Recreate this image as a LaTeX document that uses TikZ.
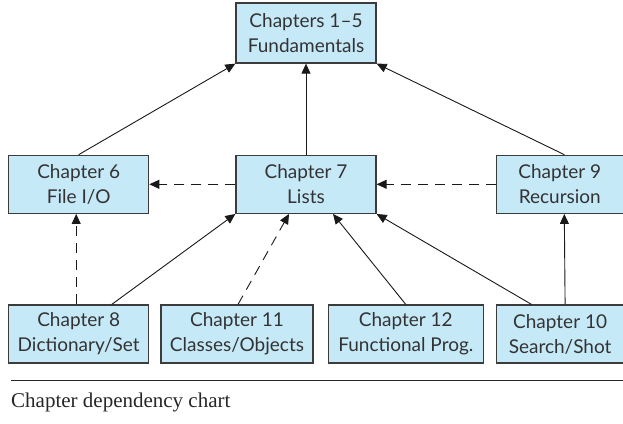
\documentclass[tikz,border=0pt]{standalone}
\usepackage{fontspec}
\setmainfont{Liberation Serif}
\newfontfamily\chapfont{Lato}
\usetikzlibrary{positioning,arrows.meta}
\definecolor{chapfill}{HTML}{C6E9F8}
\definecolor{chapline}{HTML}{3C3C3C}

\begin{document}
\begin{tikzpicture}[x=1pt, y=-1pt, font=\chapfont\fontsize{19}{25}\selectfont,
    chap/.style={draw=chapline, line width=1.3pt, fill=chapfill, shape=rectangle, align=center, inner sep=0pt, text=black!80, minimum height=58pt, minimum width=140pt},
    dep/.style={-{Triangle[length=10pt,width=9pt]}, line width=0.9pt, draw=black!90},
    weak/.style={dep, dash pattern=on 10pt off 7pt}]
    \useasboundingbox (0,0) rectangle (623,423);

    \node (fund) [chap, minimum height=60pt] at (306,33) {Chapters 1–5\\Fundamentals};
    \node (ch7) [chap, below=91pt of fund] {Chapter 7\\Lists};
    \node (ch6) [chap, left=86pt of ch7] {Chapter 6\\File I/O};
    \node (ch9) [chap, right=119pt of ch7, minimum width=127pt] {Chapter 9\\Recursion};
    \node (ch8) [chap, below=90.5pt of ch6] {Chapter 8\\Dictionary/Set};
    \node (ch11) [chap, right=11pt of ch8, minimum width=152pt] {Chapter 11\\Classes/Objects};
    \node (ch12) [chap, right=14pt of ch11, minimum width=155pt] {Chapter 12\\Functional Prog.};
    \node (ch10) [chap, right=12pt of ch12, minimum width=127pt] {Chapter 10\\Search/Shot};

    \draw [dep] (ch6.north) -- (fund.south west);
    \draw [dep] (ch7.north) -- (fund.south);
    \draw [dep] ([xshift=4.5pt]ch9.north) -- (fund.south east);
    \draw [weak] (ch7.west) -- (ch6.east);
    \draw [weak] (ch9.west) -- (ch7.east);
    \draw [weak] ([xshift=-2.5pt]ch8.north) -- ([xshift=-2.5pt]ch6.south);
    \draw [dep] ([xshift=33pt]ch8.north) -- (ch7.south west);
    \draw [weak] ([xshift=1pt]ch11.north) -- ([xshift=-17pt]ch7.south);
    \draw [dep] (ch12.north) -- ([xshift=27pt]ch7.south);
    \draw [dep] ([xshift=-28.5pt]ch10.north) -- (ch7.south east);
    \draw [dep] ([xshift=5pt]ch10.north) -- ([xshift=4.5pt]ch9.south);

    % caption under the chart
    \draw [line width=1pt, black!85] (11,380) -- (623,380);
    \node (caption) [anchor=base west, inner sep=0pt, font=\rmfamily\fontsize{21}{24}\selectfont, text=black!85] at (11,407) {Chapter dependency chart};
\end{tikzpicture}
\end{document}
